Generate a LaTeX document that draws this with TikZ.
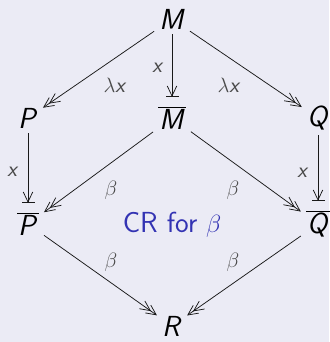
\documentclass[tikz,border=0pt]{standalone}
\usepackage{fontspec}
\usetikzlibrary{arrows.meta}
\definecolor{bgc}{HTML}{EBEBF5}
\definecolor{crblue}{HTML}{3333B3}
\definecolor{lblgray}{HTML}{4A4A4A}
\newcommand\sv[1]{\textsf{\itshape #1}}
\newcommand\svbar[1]{$\overline{\hbox{\kern1pt\sv{#1}\kern1pt}}$}
\tikzset{
  obj/.style={font=\fontsize{29}{31}\selectfont, inner sep=5pt, text=black},
  lbl/.style={font=\fontsize{22}{24}\selectfont, text=lblgray, inner sep=0pt},
  dbl/.style={draw=black!90, line width=0.75pt, -{Straight Barb[length=10pt,width=9.5pt,sep=-4pt] Straight Barb[length=10pt,width=9.5pt]}},
  barr/.style={draw=black!90, line width=0.75pt, -{Straight Barb[length=10pt,width=9.5pt,sep=-1pt] Bar[width=13pt,line width=0.9pt]}, shorten >=5pt},
}
\begin{document}
\begin{tikzpicture}[x=1pt,y=-1pt]
\fill[bgc] (0,0) rectangle (329,342);
\useasboundingbox (0,0) rectangle (329,342);
\node[obj] (M) at (172,19) {\sv{M}};
\node[obj] (P) at (28,118) {\sv{P}};
\node[obj] (Q) at (318,118) {\sv{Q}};
\node[obj] (Mb) at (172,118) {\svbar{M}};
\node[obj] (Pb) at (28,224) {\svbar{P}};
\node[obj] (Qb) at (318,224) {\svbar{Q}};
\node[obj] (R) at (172,326) {\sv{R}};
\node[obj, text=crblue] (CR) at (172,225) {\textsf{CR for} $\beta$};

\draw[dbl] (M) -- (P);
\draw[dbl] (M) -- (Q);
\draw[barr] (M) -- (Mb);
\draw[barr] (P) -- (Pb);
\draw[barr] (Q) -- (Qb);
\draw[dbl] (Mb) -- (Pb);
\draw[dbl] (Mb) -- (Qb);
\draw[dbl] (Pb) -- (R);
\draw[dbl] (Qb) -- (R);

\node[lbl] (l1) at (115,85) {$\lambda$\sv{x}};
\node[lbl] (l2) at (229,85) {$\lambda$\sv{x}};
\node[lbl] (l3) at (158,68) {\sv{x}};
\node[lbl] (l4) at (13,172) {\sv{x}};
\node[lbl] (l5) at (303,173) {\sv{x}};
\node[lbl] (b1) at (111,190) {$\beta$};
\node[lbl] (b2) at (233,190) {$\beta$};
\node[lbl] (b3) at (111,262) {$\beta$};
\node[lbl] (b4) at (233,262) {$\beta$};
\end{tikzpicture}
\end{document}
